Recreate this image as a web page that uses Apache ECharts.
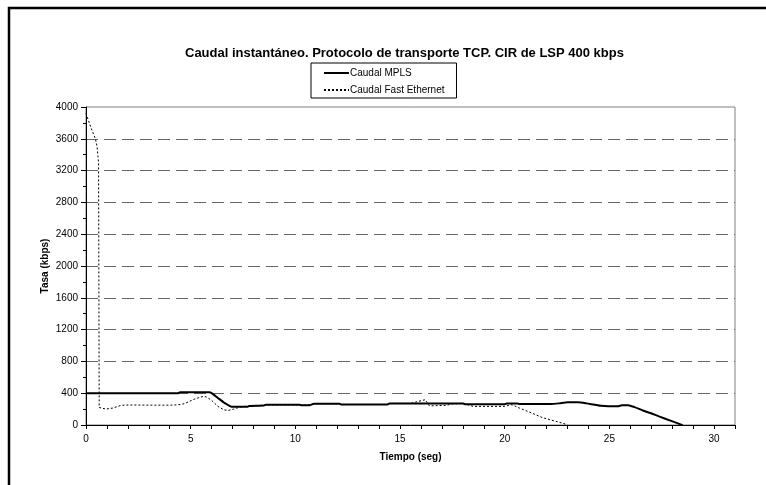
<!DOCTYPE html>
<html>
<head>
<meta charset="utf-8">
<script src="https://cdn.jsdelivr.net/npm/echarts@6/dist/echarts.min.js"></script>
<style>
html,body{margin:0;padding:0;background:#fff;}
#chart{width:766px;height:485px;}
</style>
</head>
<body>
<div id="chart"></div>
<script>
const titleText = 'Caudal instantáneo. Protocolo de transporte TCP. CIR de LSP 400 kbps';
const seriesNames = ['Caudal MPLS', 'Caudal Fast Ethernet'];
const xAxisName = 'Tiempo (seg)';
const yAxisName = 'Tasa (kbps)';

const mplsTime = [0, 4.4, 4.5, 5.9, 6.0, 6.3, 6.6, 6.96, 7.7, 7.8, 8.5, 8.6, 10.2, 10.3, 10.7, 10.9, 12.1, 12.2, 14.4, 14.5, 18.0, 18.1, 20.0, 20.1, 20.6, 20.7, 22.2, 22.6, 23.0, 23.5, 23.9, 24.6, 25.4, 25.6, 25.9, 26.2, 26.6, 27.1, 27.7, 28.4, 28.5];
const mplsRate = [400, 400, 412, 412, 400, 340, 280, 230, 230, 240, 245, 255, 255, 250, 250, 268, 268, 258, 258, 272, 272, 262, 262, 270, 270, 264, 264, 272, 285, 285, 272, 242, 235, 250, 250, 225, 183, 136, 76, 8, 0];

const feTime = [0, 0.25, 0.45, 0.53, 0.57, 0.6, 0.63, 0.72, 0.95, 1.27, 1.67, 2.07, 3.0, 4.1, 4.4, 4.7, 5.2, 5.6, 5.75, 6.0, 6.3, 6.6, 6.8, 7.05, 7.36, 7.6, 8.0, 8.5, 9.0, 9.8, 10.5, 10.9, 12.1, 12.2, 14.4, 14.5, 15.5, 16.2, 16.4, 17.2, 17.5, 18.0, 18.5, 20.0, 20.3, 20.4, 20.7, 21.2, 21.8, 22.5, 22.95, 23.0];
const feRate = [3920, 3730, 3600, 3500, 3380, 3300, 220, 210, 200, 213, 247, 252, 250, 250, 255, 268, 328, 360, 353, 310, 234, 190, 183, 200, 225, 235, 240, 250, 255, 255, 250, 268, 268, 258, 258, 272, 272, 318, 241, 247, 265, 272, 234, 234, 255, 250, 213, 161, 93, 42, 8, 0];

const xTicks = {min: 0, max: 31, step: 1, labelEvery: 5};
const yTicks = {min: 0, max: 4000, step: 400};

function pairs(t, v) { return t.map((x, i) => [x, v[i]]); }

const chart = echarts.init(document.getElementById('chart'), null, {renderer: 'canvas'});
const font = 'Liberation Sans, Arial, sans-serif';
chart.setOption({
  animation: false,
  backgroundColor: '#fff',
  textStyle: {fontFamily: font},
  graphic: [{
    type: 'rect', shape: {x: 9, y: 8, width: 800, height: 520},
    style: {fill: 'none', stroke: '#000', lineWidth: 2.5}, silent: true, z: 100
  }],
  title: {
    text: titleText, left: 180, top: 42,
    textStyle: {fontFamily: font, fontSize: 13, fontWeight: 'bold', color: '#000'}
  },
  legend: {
    orient: 'vertical', left: 311, top: 63,
    data: seriesNames,
    itemWidth: 25, itemHeight: 10, itemGap: 7,
    padding: [5, 12, 3, 12],
    borderColor: '#000', borderWidth: 1, borderRadius: 0,
    itemStyle: {opacity: 0},
    textStyle: {fontFamily: font, fontSize: 10, color: '#000', padding: [0, 0, 0, -4]}
  },
  grid: {left: 86, right: 31, top: 107, bottom: 60, show: true, borderColor: '#808080', borderWidth: 1, backgroundColor: 'transparent'},
  xAxis: {
    type: 'value', min: xTicks.min, max: xTicks.max, interval: xTicks.step,
    name: xAxisName, nameLocation: 'middle', nameGap: 27, nameMoveOverlap: false,
    nameTextStyle: {fontFamily: font, fontSize: 10, fontWeight: 'bold', color: '#000'},
    axisLine: {show: true, lineStyle: {color: '#000', width: 1}},
    axisTick: {show: true, length: 4, lineStyle: {color: '#000'}},
    axisLabel: {
      color: '#000', fontSize: 10, fontFamily: font, margin: 9,
      formatter: v => (v % xTicks.labelEvery === 0 ? String(v) : '')
    },
    splitLine: {show: false}
  },
  yAxis: {
    type: 'value', min: yTicks.min, max: yTicks.max, interval: yTicks.step,
    name: yAxisName, nameLocation: 'middle', nameGap: 36, nameRotate: 90, nameMoveOverlap: false,
    nameTextStyle: {fontFamily: font, fontSize: 10, fontWeight: 'bold', color: '#000'},
    axisLine: {show: true, lineStyle: {color: '#000', width: 1}},
    axisTick: {show: true, length: 5, lineStyle: {color: '#000'}},
    minorTick: {show: true, splitNumber: 2, length: 3, lineStyle: {color: '#000'}},
    axisLabel: {color: '#000', fontSize: 10, fontFamily: font, margin: 8, formatter: v => String(v)},
    splitLine: {show: true, showMinLine: false, showMaxLine: false, lineStyle: {color: '#666', width: 1, type: [12, 6]}}
  },
  series: [
    {
      name: seriesNames[0], type: 'line', data: pairs(mplsTime, mplsRate),
      showSymbol: false, symbol: 'none', smooth: 0.2,
      lineStyle: {color: '#000', width: 2}, itemStyle: {color: '#000'}, z: 3
    },
    {
      name: seriesNames[1], type: 'line', data: pairs(feTime, feRate),
      showSymbol: false, symbol: 'none', smooth: false,
      lineStyle: {color: '#000', width: 1, type: [2, 2]}, itemStyle: {color: '#000'}, z: 2
    }
  ]
});
</script>
</body>
</html>
